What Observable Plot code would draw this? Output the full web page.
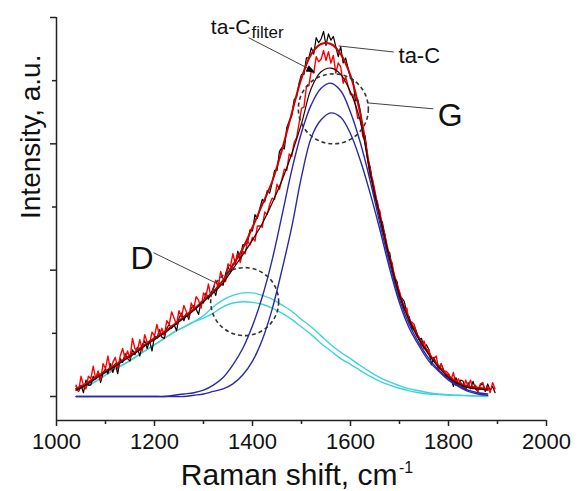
<!DOCTYPE html>
<html>
<head>
<meta charset="utf-8">
<script src="https://cdn.jsdelivr.net/npm/d3@7"></script>
<script src="https://cdn.jsdelivr.net/npm/@observablehq/plot@0.6"></script>
<style>
  body { margin: 0; background: #fff; }
  #chart svg { display: block; }
</style>
</head>
<body>
<div id="chart"></div>
<script>
// ---- Data ----
// Smooth fit curves, sampled every 20 cm^-1 from 1040 to 1880
const fitX = d3.range(1040, 1881, 20);
const fitTaC    = [0.06,0.10,0.15,0.20,0.25,0.30,0.35,0.41,0.46,0.51,0.57,0.63,0.69,0.76,0.83,0.92,1.04,1.17,1.34,1.52,1.70,1.95,2.24,2.52,2.71,2.79,2.79,2.71,2.54,2.24,1.79,1.43,1.10,0.81,0.61,0.46,0.34,0.24,0.16,0.11,0.08,0.07,0.06];
const fitFilter = [0.05,0.09,0.14,0.19,0.24,0.29,0.34,0.40,0.45,0.50,0.56,0.62,0.68,0.75,0.82,0.90,1.01,1.12,1.24,1.37,1.53,1.71,1.92,2.16,2.44,2.57,2.60,2.55,2.41,2.18,1.77,1.42,1.09,0.80,0.60,0.45,0.33,0.23,0.15,0.10,0.07,0.06,0.05];
const gTaC      = [0,0,0,0,0,0,0,0,0,0,0.01,0.02,0.03,0.05,0.09,0.15,0.25,0.38,0.56,0.79,1.08,1.43,1.79,2.09,2.31,2.44,2.48,2.42,2.25,2.01,1.71,1.37,1.05,0.77,0.57,0.42,0.30,0.21,0.14,0.09,0.05,0.03,0.02];
const gFilter   = [0,0,0,0,0,0,0,0,0,0,0,0,0.01,0.02,0.04,0.06,0.10,0.17,0.28,0.45,0.69,1.00,1.34,1.74,2.05,2.19,2.245,2.21,2.08,1.87,1.61,1.32,1.01,0.74,0.54,0.40,0.28,0.20,0.13,0.08,0.04,0.02,0.01];
const dTaC      = [0.05,0.08,0.12,0.17,0.22,0.26,0.31,0.36,0.41,0.46,0.51,0.55,0.59,0.64,0.71,0.765,0.80,0.82,0.82,0.80,0.77,0.725,0.675,0.61,0.55,0.48,0.41,0.35,0.30,0.245,0.195,0.15,0.115,0.085,0.06,0.045,0.03,0.02,0.015,0.01,0.008,0.005,0.003];
const dFilter   = [0.05,0.08,0.12,0.17,0.22,0.26,0.31,0.36,0.41,0.46,0.51,0.55,0.59,0.62,0.66,0.71,0.74,0.75,0.745,0.73,0.70,0.66,0.61,0.55,0.49,0.42,0.36,0.30,0.255,0.205,0.16,0.12,0.09,0.065,0.045,0.03,0.02,0.015,0.01,0.008,0.005,0.003,0];

// Measured (noisy) spectra, sampled every 5 cm^-1 from 1040 to 1895
const rawX = d3.range(1040, 1896, 5);
const rawTaC = [0.08,0.04,0.09,0.03, 0.13,0.09,0.09,0.16, 0.14,0.20,0.11,0.19, 0.22,0.18,0.26,0.19, 0.26,0.18,0.30,0.27, 0.34,0.30,0.28,0.37, 0.33,0.39,0.32,0.41, 0.44,0.38,0.44,0.36, 0.48,0.46,0.53,0.47, 0.46,0.54,0.57,0.54, 0.57,0.52,0.62,0.66, 0.60,0.66,0.61,0.70, 0.72,0.69,0.65,0.75,
  0.74,0.82,0.77,0.82, 0.85,0.80,0.90,0.89, 0.88,0.97,1.03,0.98, 1.05,1.05,1.15,1.08, 1.20,1.20,1.22,1.32, 1.31,1.44,1.41,1.49, 1.56,1.54,1.63,1.61, 1.69,1.79,1.79,1.94, 1.97,1.96,2.13,2.18, 2.22,2.35,2.37,2.48,
  2.55,2.55,2.68,2.68, 2.76,2.71,2.84,2.80, 2.83,2.89,2.78,2.87, 2.82,2.85,2.77,2.69, 2.77,2.64,2.68,2.60, 2.52,2.51,2.34,2.35,
  2.26,2.10,2.06,1.88, 1.82,1.69,1.57,1.54, 1.41,1.38,1.28,1.15, 1.14,1.01,0.94,0.91, 0.78,0.78,0.75,0.65, 0.63,0.53,0.56,0.51, 0.45,0.46,0.38,0.41, 0.37,0.25,0.31,0.26, 0.22,0.26,0.21,0.15, 0.18,0.14,0.08,0.15, 0.10,0.13,0.12,0.05, 0.11,0.06,0.12,0.06, 0.04,0.09,0.10,0.04, 0.10,0.05,0.08,0.03];
const rawFilter = [0.09,0.04,0.16,0.09, 0.06,0.16,0.14,0.24, 0.14,0.20,0.13,0.26, 0.22,0.32,0.21,0.27, 0.31,0.22,0.32,0.38, 0.30,0.36,0.30,0.46, 0.38,0.36,0.45,0.36, 0.49,0.43,0.42,0.51, 0.48,0.57,0.48,0.54, 0.48,0.60,0.57,0.67, 0.62,0.57,0.68,0.63, 0.72,0.67,0.63,0.74, 0.69,0.79,0.76,0.70,
  0.82,0.79,0.89,0.79, 0.86,0.92,0.86,0.99, 0.93,0.91,1.05,1.03, 1.13,1.05,1.13,1.06, 1.15,1.13,1.23,1.20, 1.26,1.23,1.35,1.35, 1.34,1.46,1.44,1.52, 1.57,1.56,1.68,1.64, 1.72,1.80,1.79,1.92, 1.90,2.01,2.05,2.16,
  2.28,2.29,2.45,2.46, 2.58,2.56,2.69,2.65, 2.67,2.74,2.66,2.73, 2.64,2.70,2.56,2.64, 2.61,2.48,2.53,2.46, 2.39,2.39,2.31,2.20,
  2.21,2.06,2.03,1.88, 1.74,1.72,1.62,1.50, 1.47,1.32,1.29,1.17, 1.08,1.06,0.92,0.89, 0.83,0.76,0.68,0.70, 0.58,0.59,0.57,0.48, 0.47,0.39,0.44,0.37, 0.37,0.30,0.30,0.32, 0.21,0.26,0.20,0.20, 0.18,0.13,0.19,0.09, 0.14,0.11,0.06,0.13, 0.08,0.13,0.06,0.09, 0.04,0.10,0.11,0.05, 0.08,0.03,0.11,0.06];

// Axis ticks
const xMajor = [1000, 1200, 1400, 1600, 1800, 2000];
const xMinor = [1100, 1300, 1500, 1700, 1900];
const yMajor = [0, 1, 2, 3];
const yMinor = [0.5, 1.5, 2.5];

// Annotations
const circleG = [{x: 1565, y: 2.277}];
const circleD = [{x: 1384, y: 0.751}];
const leaders = [
  {x1: 1576, y1: 2.775, x2: 1688, y2: 2.727},   // ta-C
  {x1: 1635, y1: 2.324, x2: 1769, y2: 2.277},   // G
  {x1: 1198, y1: 1.138, x2: 1324, y2: 0.901},   // D
  {x1: 1392, y1: 2.84,  x2: 1522, y2: 2.58}     // ta-C filter
];
const arrowTip = [{x: 1528, y: 2.565}];

// ---- Tables ----
const fits = fitX.map((x, i) => ({x, fitTaC: fitTaC[i], fitFilter: fitFilter[i], gTaC: gTaC[i], gFilter: gFilter[i], dTaC: dTaC[i], dFilter: dFilter[i]}));
const raw = rawX.map((x, i) => ({x, taC: rawTaC[i], filter: rawFilter[i]}));

const FONT = "'Liberation Sans', Arial, Helvetica, sans-serif";
const cyan = "#3fd2da", blue = "#2a2aa6";

// filled triangular arrow head
const headShape = {
  draw(context, l, r) {
    context.moveTo(0, -l);
    context.lineTo(-r, 0);
    context.lineTo(r, 0);
    context.closePath();
  }
};

const plot = Plot.plot({
  width: 581,
  height: 491,
  marginLeft: 56,
  marginRight: 35,
  marginTop: 17,
  marginBottom: 71,
  style: {fontFamily: FONT, background: "#fff", overflow: "visible"},
  x: {domain: [1000, 2000], axis: null},
  y: {domain: [-0.19, 3], axis: null},
  marks: [
    // D components
    Plot.line(fits, {x: "x", y: "dTaC", stroke: cyan, strokeWidth: 1.4, curve: "catmull-rom"}),
    Plot.line(fits, {x: "x", y: "dFilter", stroke: cyan, strokeWidth: 1.4, curve: "catmull-rom"}),
    // measured spectra
    Plot.line(raw, {x: "x", y: "taC", stroke: "#000", strokeWidth: 1.2}),
    Plot.line(raw, {x: "x", y: "filter", stroke: "#f00", strokeWidth: 1.4}),
    // G components
    Plot.line(fits, {x: "x", y: "gTaC", stroke: blue, strokeWidth: 1.4, curve: "catmull-rom"}),
    Plot.line(fits, {x: "x", y: "gFilter", stroke: blue, strokeWidth: 1.4, curve: "catmull-rom"}),
    // total fits
    Plot.line(fits, {x: "x", y: "fitTaC", stroke: "#d00000", strokeWidth: 2, curve: "catmull-rom"}),
    Plot.line(fits, {x: "x", y: "fitFilter", stroke: "#2a0000", strokeWidth: 1.2, curve: "catmull-rom"}),
    // dashed circles
    Plot.dot(circleG, {x: "x", y: "y", r: 35, stroke: "#333", strokeWidth: 1.6, strokeDasharray: "4,3", fill: "none"}),
    Plot.dot(circleD, {x: "x", y: "y", r: 34, stroke: "#333", strokeWidth: 1.6, strokeDasharray: "4,3", fill: "none"}),
    // leader lines
    Plot.link(leaders, {x1: "x1", y1: "y1", x2: "x2", y2: "y2", stroke: "#444", strokeWidth: 1}),
    Plot.vector(arrowTip, {x: "x", y: "y", length: 9, rotate: 117, anchor: "end", shape: headShape, r: 3.5, fill: "#000", stroke: "none"}),
    // labels
    Plot.text(["ta-C"], {x: [1396], y: [2.87], textAnchor: "end", lineAnchor: "bottom", fontSize: 21, fill: "#111"}),
    Plot.text(["filter"], {x: [1398], y: [2.838], textAnchor: "start", lineAnchor: "bottom", fontSize: 17, fill: "#111"}),
    Plot.text(["ta-C"], {x: [1698], y: [2.636], textAnchor: "start", lineAnchor: "bottom", fontSize: 22, fill: "#111"}),
    Plot.text(["G"], {x: [1778], y: [2.142], textAnchor: "start", lineAnchor: "bottom", fontSize: 32, fill: "#111"}),
    Plot.text(["D"], {x: [1151], y: [1.012], textAnchor: "start", lineAnchor: "bottom", fontSize: 32, fill: "#111"}),
    // axis lines
    Plot.ruleY([-0.19], {stroke: "#222", strokeWidth: 1.5}),
    Plot.ruleX([1000], {stroke: "#222", strokeWidth: 1.5}),
    // axes
    Plot.axisX(xMajor, {tickSize: 6, tickPadding: 7, tickFormat: (d) => String(d), fontSize: 22, fill: "#111", stroke: "#222", strokeWidth: 1.5, label: null}),
    Plot.axisX(xMinor, {tickSize: 4, tickFormat: () => "", stroke: "#222", strokeWidth: 1.5, label: null}),
    Plot.axisY(yMajor, {tickSize: 6, tickFormat: () => "", stroke: "#222", strokeWidth: 1.5, label: null}),
    Plot.axisY(yMinor, {tickSize: 4, tickFormat: () => "", stroke: "#222", strokeWidth: 1.5, label: null}),
    // axis titles
    Plot.text(["Intensity, a.u."], {frameAnchor: "left", rotate: -90, lineAnchor: "bottom", dx: -17, fontSize: 28, fill: "#111"}),
    Plot.text(["Raman shift, cm"], {x: [1696], frameAnchor: "bottom", textAnchor: "end", lineAnchor: "bottom", dy: 64, fontSize: 30, fill: "#111"}),
    Plot.text(["-1"], {x: [1699], frameAnchor: "bottom", textAnchor: "start", lineAnchor: "bottom", dy: 52, fontSize: 16, fill: "#111"})
  ]
});

document.getElementById("chart").appendChild(plot);
</script>
</body>
</html>
